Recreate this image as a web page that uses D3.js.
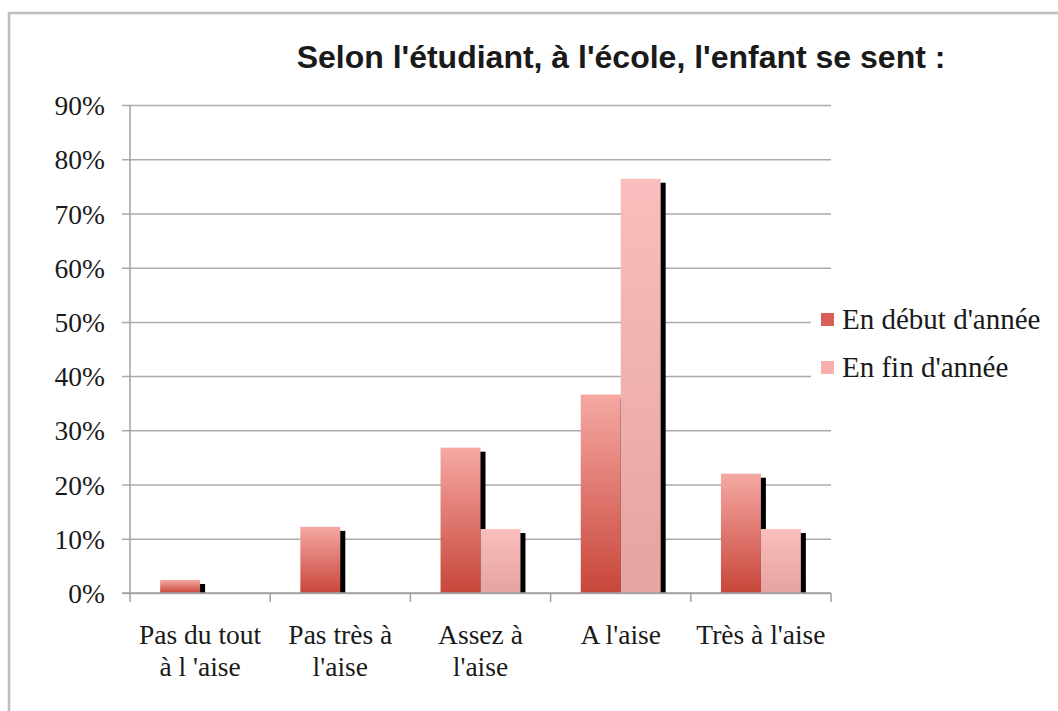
<!DOCTYPE html>
<html>
<head>
<meta charset="utf-8">
<script src="https://cdn.jsdelivr.net/npm/d3@7"></script>
<style>
  body { margin: 0; background: #fff; }
  svg text { fill: #1a1a1a; }
</style>
</head>
<body>
<svg width="1058" height="711"></svg>
<script>
// chart data
var categories = ["Pas du tout|à l 'aise", "Pas très à|l'aise", "Assez à|l'aise", "A l'aise", "Très à l'aise"];
var series = ["En début d'année", "En fin d'année"];
var debut = [2.4, 12.2, 26.8, 36.6, 22.0];
var fin = [0, 0, 11.8, 76.4, 11.8];
var yTicks = [0, 10, 20, 30, 40, 50, 60, 70, 80, 90];
var title = "Selon l'étudiant, à l'école, l'enfant se sent :";

var svg = d3.select("svg"),
    width = +svg.attr("width"),
    height = +svg.attr("height");

var serif = "'Liberation Serif', 'Times New Roman', serif";

// outer frame
svg.append("rect")
    .attr("x", 9).attr("y", 13)
    .attr("width", 1080).attr("height", 740)
    .attr("fill", "#fff")
    .attr("stroke", "#bdbdbd")
    .attr("stroke-width", 2.5);

// plot area (window.top is taken, so no "top" here)
var plotL = 130, plotR = 831, plotT = 105, plotB = 593;

var y = d3.scaleLinear().domain([0, 90]).range([plotB, plotT]);

var x0 = d3.scaleBand()
    .domain(categories)
    .range([plotL, plotR])
    .paddingInner(0.43)
    .paddingOuter(0.215);

var x1 = d3.scaleBand()
    .domain(series)
    .range([0, x0.bandwidth()]);

// gradients
var defs = svg.append("defs");
function grad(id, c0, c1) {
  var g = defs.append("linearGradient").attr("id", id)
      .attr("x1", 0).attr("y1", 0).attr("x2", 0).attr("y2", 1);
  g.append("stop").attr("offset", "0%").attr("stop-color", c0);
  g.append("stop").attr("offset", "100%").attr("stop-color", c1);
}
grad("gDebut", "#f5a8a3", "#c8463a");
grad("gFin", "#f9bebd", "#e6a3a0");
var fills = ["url(#gDebut)", "url(#gFin)"];

// grid lines + y axis
var yAxis = d3.axisLeft(y)
    .tickValues(yTicks)
    .tickSize(-(plotR - plotL))
    .tickPadding(25)
    .tickFormat(function(d) { return d + "%"; });

var gy = svg.append("g")
    .attr("transform", "translate(" + plotL + ",0)")
    .call(yAxis);
gy.select(".domain").remove();
gy.selectAll(".tick line")
    .attr("x1", -8)
    .attr("stroke", "#ababab")
    .attr("stroke-width", 1.5);
gy.selectAll(".tick text")
    .style("font-family", serif)
    .style("font-size", "27.5px")
    .attr("dy", "0.35em")
    .attr("fill", "#1a1a1a");

// y axis line
svg.append("line")
    .attr("x1", plotL).attr("x2", plotL)
    .attr("y1", plotT).attr("y2", plotB)
    .attr("stroke", "#a0a0a0").attr("stroke-width", 1.5);

// bars
var rows = categories.map(function(c, i) {
  return { cat: c, vals: [debut[i], fin[i]] };
});

var groups = svg.append("g").selectAll("g")
    .data(rows)
    .enter().append("g")
    .attr("transform", function(d) { return "translate(" + x0(d.cat) + ",0)"; });

// shadows first
groups.selectAll("rect.shadow")
    .data(function(d) { return d.vals.map(function(v, i) { return { s: series[i], v: v }; }); })
    .enter().append("rect")
    .attr("class", "shadow")
    .filter(function(d) { return d.v > 0; })
    .attr("x", function(d) { return x1(d.s) + 5; })
    .attr("y", function(d) { return y(d.v) + 4; })
    .attr("width", x1.bandwidth())
    .attr("height", function(d) { return y(0) - y(d.v) - 4; })
    .attr("fill", "#000");

groups.selectAll("rect.bar")
    .data(function(d) { return d.vals.map(function(v, i) { return { s: series[i], v: v, i: i }; }); })
    .enter().append("rect")
    .attr("class", "bar")
    .filter(function(d) { return d.v > 0; })
    .attr("x", function(d) { return x1(d.s); })
    .attr("y", function(d) { return y(d.v); })
    .attr("width", x1.bandwidth())
    .attr("height", function(d) { return y(0) - y(d.v); })
    .attr("fill", function(d) { return fills[d.i]; });

// x axis
var step = x0.step();
var xAxisG = svg.append("g");
xAxisG.append("line")
    .attr("x1", plotL - 8).attr("x2", plotR)
    .attr("y1", plotB).attr("y2", plotB)
    .attr("stroke", "#a0a0a0").attr("stroke-width", 1.5);
xAxisG.selectAll("line.tk")
    .data(d3.range(categories.length + 1))
    .enter().append("line")
    .attr("class", "tk")
    .attr("x1", function(i) { return plotL + i * step; })
    .attr("x2", function(i) { return plotL + i * step; })
    .attr("y1", plotB).attr("y2", plotB + 9)
    .attr("stroke", "#a0a0a0").attr("stroke-width", 1.5);

xAxisG.selectAll("text.cat")
    .data(categories)
    .enter().append("text")
    .attr("class", "cat")
    .attr("x", function(d) { return x0(d) + x0.bandwidth() / 2; })
    .attr("y", 644)
    .attr("text-anchor", "middle")
    .style("font-family", serif)
    .style("font-size", "27.5px")
    .each(function(d) {
      var lines = d.split("|");
      var t = d3.select(this);
      lines.forEach(function(l, k) {
        t.append("tspan")
          .attr("x", t.attr("x"))
          .attr("dy", k === 0 ? 0 : 32)
          .text(l);
      });
    });

// title
svg.append("text")
    .attr("x", 621)
    .attr("y", 68)
    .attr("text-anchor", "middle")
    .style("font-family", "'Liberation Sans', Arial, sans-serif")
    .style("font-weight", "bold")
    .style("font-size", "32px")
    .text(title);

// legend
var legend = svg.append("g");
legend.append("rect")
    .attr("x", 811).attr("y", 296)
    .attr("width", 240).attr("height", 100)
    .attr("fill", "#fff");
var legendColors = ["#d85e57", "#f5b0ae"];
var li = legend.selectAll("g.item")
    .data(series)
    .enter().append("g")
    .attr("class", "item")
    .attr("transform", function(d, i) { return "translate(821," + (313 + i * 48) + ")"; });
li.append("rect")
    .attr("width", 13).attr("height", 13)
    .attr("fill", function(d, i) { return legendColors[i]; });
li.append("text")
    .attr("x", 21)
    .attr("y", 16)
    .style("font-family", serif)
    .style("font-size", "29px")
    .text(function(d) { return d; });
</script>
</body>
</html>
